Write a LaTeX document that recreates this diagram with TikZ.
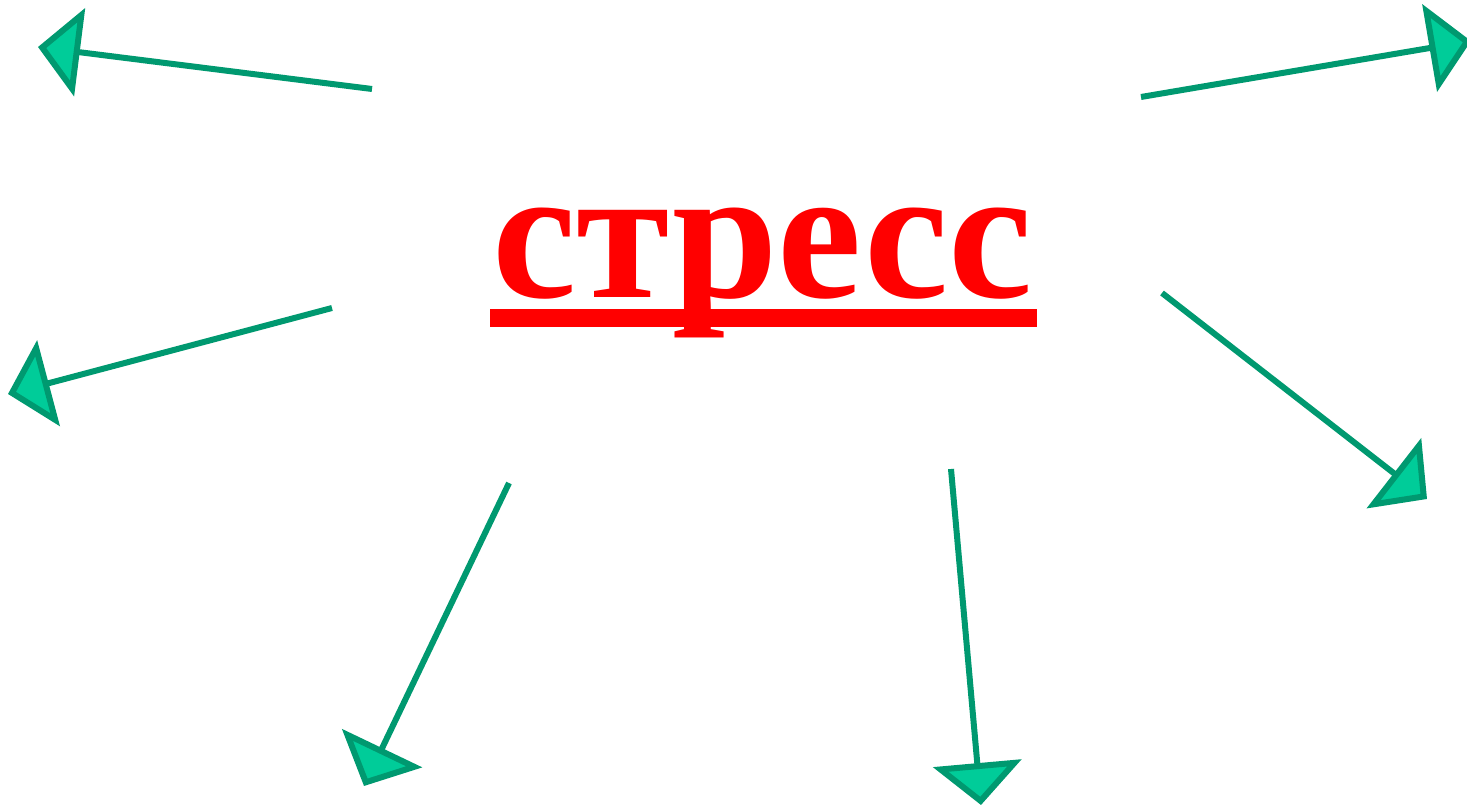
\documentclass[tikz,border=0pt]{standalone}
\usepackage{fontspec}
\setmainfont{Liberation Serif}
\usetikzlibrary{arrows.meta}
\definecolor{linegreen}{RGB}{0,153,112}
\definecolor{tipgreen}{RGB}{0,204,153}
\begin{document}
\begin{tikzpicture}[x=0.5pt,y=-0.5pt,
  conn/.style={draw=linegreen, line width=3pt,
    -{Triangle[length=21pt,width=44pt,fill=tipgreen]}}]
\useasboundingbox (0,0) rectangle (1467,807);
\node[font=\fontsize{95}{95}\selectfont\bfseries, text=red, inner sep=0pt, anchor=base west] (title) at (492,298) {стресс};
\fill[red] (490,309) rectangle (1037,327);
\coordinate (s1) at (372,89);   \coordinate (t1) at (38,47);
\coordinate (s2) at (1141,97);  \coordinate (t2) at (1471,41);
\coordinate (s3) at (332,308);  \coordinate (t3) at (8,394);
\coordinate (s4) at (1162,293); \coordinate (t4) at (1427,499);
\coordinate (s5) at (509,483);  \coordinate (t5) at (364,786);
\coordinate (s6) at (951,469);  \coordinate (t6) at (981,805);
\foreach \i in {1,...,6} {\draw[conn] (s\i) -- (t\i);}
\end{tikzpicture}
\end{document}
